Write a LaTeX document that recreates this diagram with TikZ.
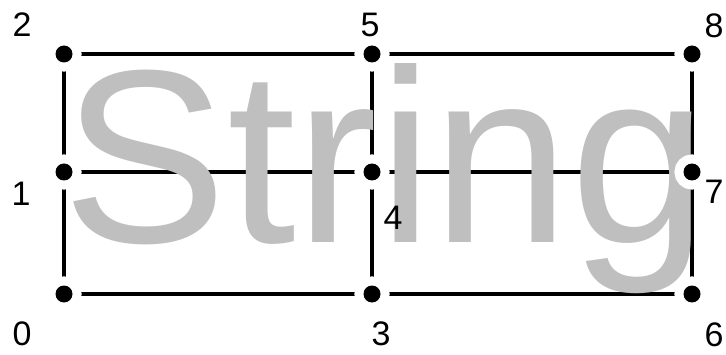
\documentclass[tikz,border=0pt]{standalone}
\usepackage{fontspec}
\setmainfont{Liberation Sans}
\pgfdeclarelayer{lines}
\pgfdeclarelayer{word}
\pgfsetlayers{lines,word,main}
\tikzset{
  dot/.style={circle, fill=black, inner sep=0pt, outer sep=0pt, minimum size=17pt,
    preaction={draw=white, line width=18pt}},
  edge/.style={line width=4pt, black},
  lbl/.style={inner sep=0pt, font=\fontsize{34}{36}\selectfont},
  word/.style={inner sep=0pt, anchor=base, text=black!25, font=\fontsize{247}{250}\selectfont}
}
\begin{document}
\begin{tikzpicture}[x=1pt,y=1pt]
\useasboundingbox (0,0) rectangle (726,354);
% dots
\node[dot] (n0) at (64,60) {};
\node[dot] (n1) at (64,182) {};
\node[dot] (n2) at (64,300) {};
\node[dot] (n3) at (372,60) {};
\node[dot] (n4) at (372,182) {};
\node[dot] (n5) at (372,300) {};
\node[dot] (n6) at (692,60) {};
\node[dot] (n7) at (692,182) {};
\node[dot] (n8) at (692,300) {};
% labels
\node[lbl] (l0) at (22,20) {0};
\node[lbl] (l1) at (21,160) {1};
\node[lbl] (l2) at (22,329) {2};
\node[lbl] (l3) at (381,20) {3};
\node[lbl] (l4) at (393,136) {4};
\node[lbl] (l5) at (370,329) {5};
\node[lbl] (l6) at (714,19) {6};
\node[lbl] (l7) at (714,162) {7};
\node[lbl] (l8) at (714,328) {8};
% word
\begin{pgfonlayer}{word}
\node[word] (w) at (385,112) {String};
\end{pgfonlayer}
% connectors
\begin{pgfonlayer}{lines}
\draw[edge] (n0) -- (n1);
\draw[edge] (n1) -- (n2);
\draw[edge] (n3) -- (n4);
\draw[edge] (n4) -- (n5);
\draw[edge] (n6) -- (n7);
\draw[edge] (n7) -- (n8);
\draw[edge] (n2) -- (n5);
\draw[edge] (n5) -- (n8);
\draw[edge] (n1) -- (n4);
\draw[edge] (n4) -- (n7);
\draw[edge] (n0) -- (n3);
\draw[edge] (n3) -- (n6);
\end{pgfonlayer}
\end{tikzpicture}
\end{document}
